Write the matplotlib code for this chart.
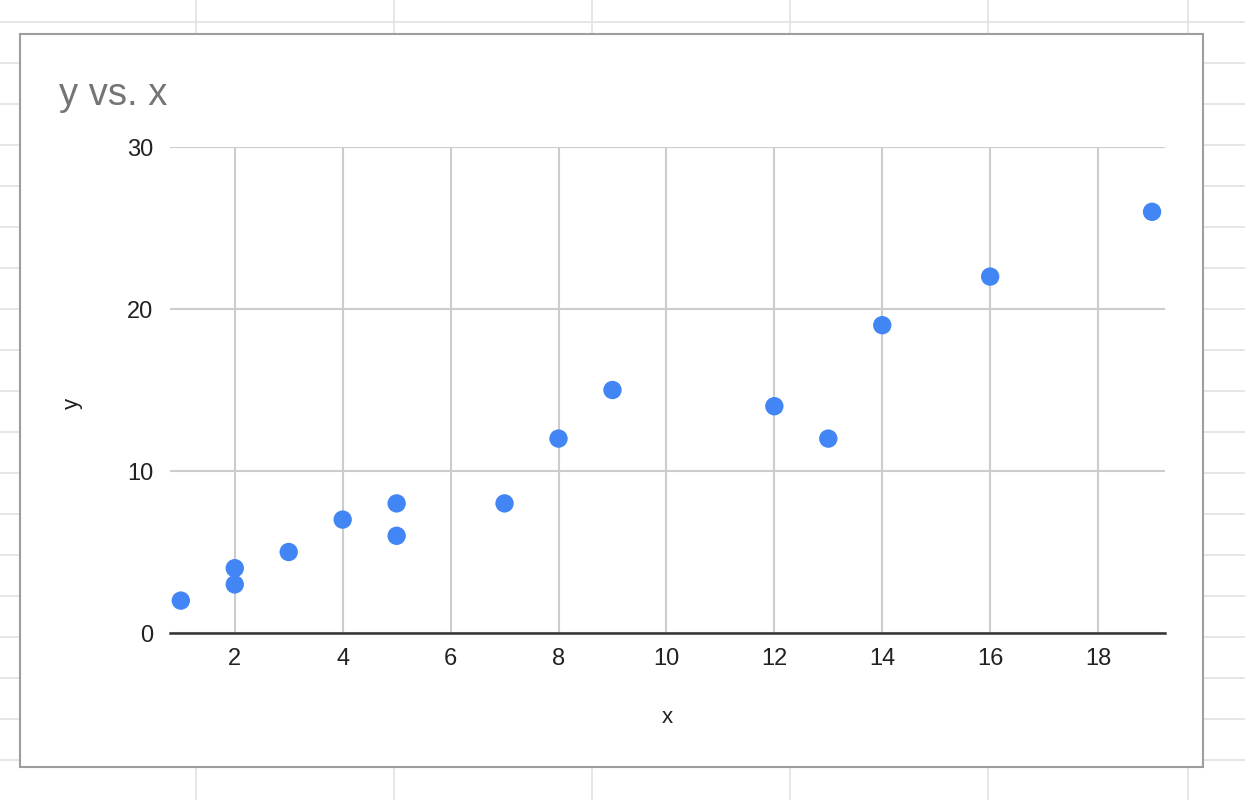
import matplotlib
matplotlib.use("Agg")
import matplotlib.pyplot as plt
from matplotlib.lines import Line2D
from matplotlib.patches import Rectangle

# data
x_vals = [1, 2, 2, 3, 4, 5, 5, 7, 8, 9, 12, 13, 14, 16, 19]
y_vals = [2, 3, 4, 5, 7, 6, 8, 8, 12, 15, 14, 12, 19, 22, 26]
x_ticks = [2, 4, 6, 8, 10, 12, 14, 16, 18]
y_ticks = [0, 10, 20, 30]

plt.rcParams['font.family'] = ['Liberation Sans', 'DejaVu Sans']

W, H = 1245, 800
fig = plt.figure(figsize=(W / 100, H / 100), dpi=100)
fig.patch.set_facecolor('white')

def px(x, y):
    # figure pixel (from top-left) -> figure fraction
    return x / W, 1 - y / H

# spreadsheet cells behind the chart
cell_col = '#e2e2e2'
for cx in [196, 394, 592, 790, 988, 1188]:
    fig.add_artist(Line2D([cx / W, cx / W], [0, 1], color=cell_col, lw=1.2, zorder=0))
for cy in range(22, 800, 41):
    fig.add_artist(Line2D([0, 1], [1 - cy / H, 1 - cy / H], color=cell_col, lw=1.2, zorder=0))

# chart box
x0, y0 = px(20, 767)
x1, y1 = px(1203, 34)
fig.add_artist(Rectangle((x0, y0), x1 - x0, y1 - y0, facecolor='white',
                         edgecolor='#9e9e9e', lw=1.5, zorder=1))

ax = fig.add_axes([170 / W, 1 - 633 / H, (1165 - 170) / W, (633 - 147) / H], zorder=2)
ax.patch.set_alpha(0)

ax.scatter(x_vals, y_vals, s=175, color='#4285f4', edgecolors='none', zorder=3, clip_on=False)

ax.set_xlim(0.8, 19.24)
ax.set_ylim(0, 30)
ax.set_xticks(x_ticks)
ax.set_yticks(y_ticks)
ax.grid(True, color='#cccccc', lw=1.5)
ax.set_axisbelow(True)
for s in ['top', 'right', 'left']:
    ax.spines[s].set_visible(False)
ax.spines['bottom'].set_color('#333333')
ax.spines['bottom'].set_linewidth(1.8)
ax.tick_params(length=0, labelsize=17, colors='#222222', pad=11)
ax.tick_params(axis='y', pad=12)

ax.set_xlabel('x', fontsize=16, color='#222222', va='center')
ax.set_ylabel('y', fontsize=16, color='#222222', va='center')
ax.xaxis.set_label_coords(0.4995, -0.173)
ax.yaxis.set_label_coords(-0.098, 0.473)

tx, ty = px(59, 95)
fig.text(tx, ty, 'y vs. x', fontsize=27.5, color='#757575', va='center', ha='left', zorder=3)

fig.savefig('out.png', dpi=100)
